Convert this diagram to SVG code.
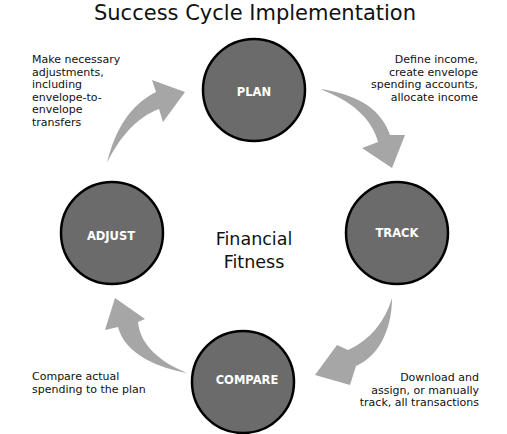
<svg xmlns="http://www.w3.org/2000/svg" width="507" height="434" viewBox="0 0 507 434">
<style>
.node circle{fill:#6b6b6b;stroke:#000;stroke-width:2.5}
.node text{fill:#fff;font-family:"DejaVu Sans",Verdana,sans-serif;font-weight:bold;font-size:11.5px;text-anchor:middle}
.arrow{fill:#a6a6a6}
.note{font-family:"DejaVu Sans",Verdana,sans-serif;font-size:11px;fill:#111}
.r{text-anchor:end}
.title{font-family:"DejaVu Sans",Verdana,sans-serif;font-size:21px;fill:#111;text-anchor:middle}
.center{font-family:"DejaVu Sans",Verdana,sans-serif;font-size:17.5px;fill:#111;text-anchor:middle}
</style>
<rect width="507" height="434" fill="#fff"/>
<text class="title" x="255" y="20">Success Cycle Implementation</text>
<g id="connectors">
<path class="arrow" d="M320,89 C350,93 380,105 390,135 L405,135 L392,168 L362,148 L378,142 C372,118 350,100 320,89 Z"/>
<path class="arrow" d="M392,298 C392,330 378,357 356,366 L350,385 L315,375 L337,345 L348,350 C370,340 385,322 392,298 Z"/>
<path class="arrow" d="M187,373 C160,368 125,355 118,327 L105,330 L115,298 L145,319 L138,322 C140,345 160,362 187,373 Z"/>
<path class="arrow" d="M107,163 C115,130 130,105 156,92 L152,80 L185,92 L163,122 L159,109 C135,118 118,140 107,163 Z"/>
</g>
<g id="plan" class="node"><circle cx="254" cy="90" r="51"/><text x="254" y="96">PLAN</text></g>
<g id="track" class="node"><circle cx="397" cy="233" r="51"/><text x="397" y="237">TRACK</text></g>
<g id="adjust" class="node"><circle cx="112" cy="233" r="51"/><text x="111" y="240">ADJUST</text></g>
<g id="compare" class="node"><circle cx="243" cy="382" r="51"/><text x="247" y="384">COMPARE</text></g>
<g id="center-label"><text class="center" x="254" y="245">Financial</text><text class="center" x="254" y="268">Fitness</text></g>
<g id="note-adjust"><text class="note" x="32" y="63">Make necessary</text><text class="note" x="32" y="75.5">adjustments,</text><text class="note" x="32" y="88">including</text><text class="note" x="32" y="100.5">envelope-to-</text><text class="note" x="32" y="113">envelope</text><text class="note" x="32" y="125.5">transfers</text></g>
<g id="note-plan"><text class="note r" x="478" y="63">Define income,</text><text class="note r" x="478" y="75.5">create envelope</text><text class="note r" x="478" y="88">spending accounts,</text><text class="note r" x="478" y="100.5">allocate income</text></g>
<g id="note-compare"><text class="note" x="32" y="380">Compare actual</text><text class="note" x="32" y="392.5">spending to the plan</text></g>
<g id="note-track"><text class="note r" x="479" y="381">Download and</text><text class="note r" x="479" y="393.5">assign, or manually</text><text class="note r" x="479" y="406">track, all transactions</text></g>
</svg>
